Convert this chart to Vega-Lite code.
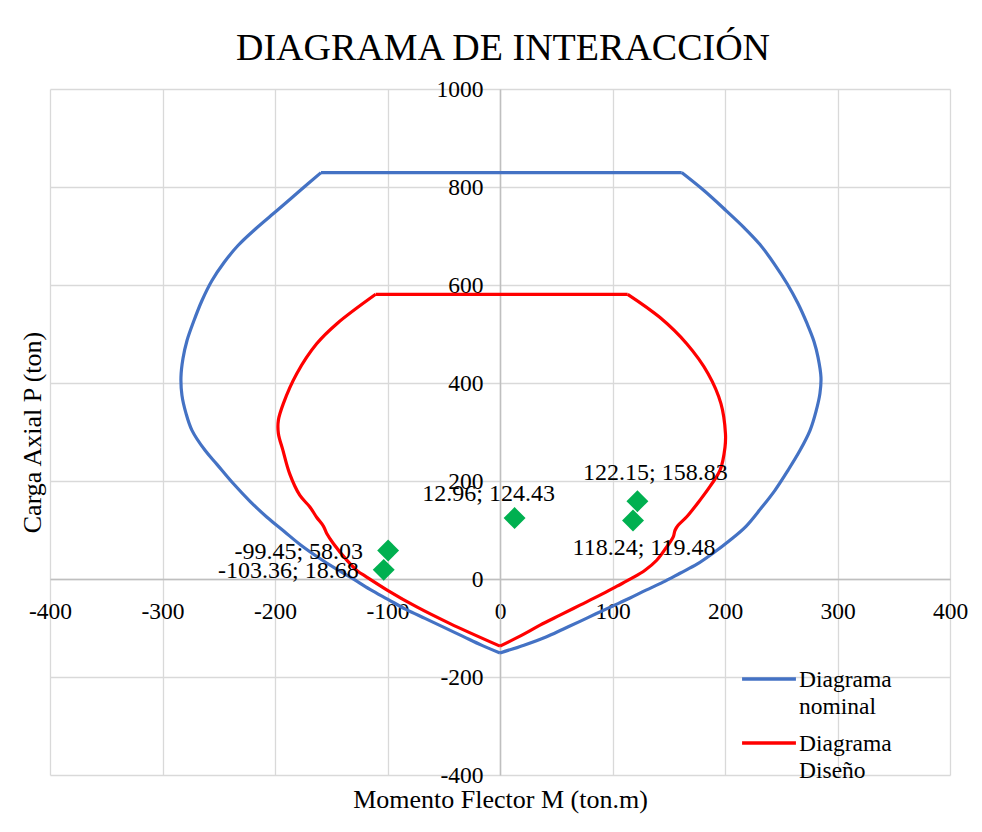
{
  "$schema": "https://vega.github.io/schema/vega-lite/v6.json",
  "width": 900,
  "height": 686,
  "autosize": {"type": "none"},
  "padding": {"left": 50, "top": 89, "right": 32, "bottom": 57},
  "background": "white",
  "title": {
    "text": "DIAGRAMA DE INTERACCIÓN",
    "font": "Liberation Serif",
    "fontSize": 38,
    "fontWeight": "normal",
    "color": "black",
    "anchor": "middle",
    "frame": "group",
    "baseline": "alphabetic",
    "offset": -21,
    "dx": 3
  },
  "config": {
    "view": {"stroke": null},
    "axis": {"labelFont": "Liberation Serif", "titleFont": "Liberation Serif", "labelColor": "black", "titleColor": "black", "titleFontWeight": "normal"},
    "legend": {"labelFont": "Liberation Serif", "labelColor": "black"}
  },
  "datasets": {
    "curves": [
      {"serie": "Diagrama nominal", "arc": "top", "i": 1, "M": -159.1, "P": 829.4},
      {"serie": "Diagrama nominal", "arc": "top", "i": 2, "M": 161.5, "P": 829.4},
      {"serie": "Diagrama nominal", "arc": "right", "i": 2, "M": 161.5, "P": 829.4},
      {"serie": "Diagrama nominal", "arc": "right", "i": 3, "M": 181.3, "P": 792.7},
      {"serie": "Diagrama nominal", "arc": "right", "i": 4, "M": 200.9, "P": 751.9},
      {"serie": "Diagrama nominal", "arc": "right", "i": 5, "M": 216.9, "P": 717.2},
      {"serie": "Diagrama nominal", "arc": "right", "i": 6, "M": 231.1, "P": 682.6},
      {"serie": "Diagrama nominal", "arc": "right", "i": 7, "M": 243.6, "P": 643.8},
      {"serie": "Diagrama nominal", "arc": "right", "i": 8, "M": 255.1, "P": 603.1},
      {"serie": "Diagrama nominal", "arc": "right", "i": 9, "M": 264.9, "P": 562.3},
      {"serie": "Diagrama nominal", "arc": "right", "i": 10, "M": 272.9, "P": 521.5},
      {"serie": "Diagrama nominal", "arc": "right", "i": 11, "M": 279.1, "P": 484.8},
      {"serie": "Diagrama nominal", "arc": "right", "i": 12, "M": 282.7, "P": 452.2},
      {"serie": "Diagrama nominal", "arc": "right", "i": 13, "M": 285.3, "P": 411.4},
      {"serie": "Diagrama nominal", "arc": "right", "i": 14, "M": 284.4, "P": 378.8},
      {"serie": "Diagrama nominal", "arc": "right", "i": 15, "M": 280.9, "P": 342.1},
      {"serie": "Diagrama nominal", "arc": "right", "i": 16, "M": 275.6, "P": 303.4},
      {"serie": "Diagrama nominal", "arc": "right", "i": 17, "M": 266.7, "P": 262.6},
      {"serie": "Diagrama nominal", "arc": "right", "i": 18, "M": 256.0, "P": 221.8},
      {"serie": "Diagrama nominal", "arc": "right", "i": 19, "M": 244.4, "P": 181.0},
      {"serie": "Diagrama nominal", "arc": "right", "i": 20, "M": 232.0, "P": 144.3},
      {"serie": "Diagrama nominal", "arc": "right", "i": 21, "M": 218.7, "P": 107.6},
      {"serie": "Diagrama nominal", "arc": "right", "i": 22, "M": 204.4, "P": 79.1},
      {"serie": "Diagrama nominal", "arc": "right", "i": 23, "M": 189.3, "P": 52.6},
      {"serie": "Diagrama nominal", "arc": "right", "i": 24, "M": 175.1, "P": 30.2},
      {"serie": "Diagrama nominal", "arc": "right", "i": 25, "M": 160.0, "P": 11.8},
      {"serie": "Diagrama nominal", "arc": "right", "i": 26, "M": 144.9, "P": -6.5},
      {"serie": "Diagrama nominal", "arc": "right", "i": 27, "M": 129.8, "P": -22.8},
      {"serie": "Diagrama nominal", "arc": "right", "i": 28, "M": 115.6, "P": -38.8},
      {"serie": "Diagrama nominal", "arc": "right", "i": 29, "M": 100.4, "P": -55.0},
      {"serie": "Diagrama nominal", "arc": "right", "i": 30, "M": 85.3, "P": -71.0},
      {"serie": "Diagrama nominal", "arc": "right", "i": 31, "M": 71.1, "P": -86.5},
      {"serie": "Diagrama nominal", "arc": "right", "i": 32, "M": 56.0, "P": -102.4},
      {"serie": "Diagrama nominal", "arc": "right", "i": 33, "M": 40.9, "P": -118.2},
      {"serie": "Diagrama nominal", "arc": "right", "i": 34, "M": 21.3, "P": -135.0},
      {"serie": "Diagrama nominal", "arc": "right", "i": 35, "M": 0, "P": -151},
      {"serie": "Diagrama nominal", "arc": "left", "i": 35, "M": 0, "P": -151},
      {"serie": "Diagrama nominal", "arc": "left", "i": 36, "M": -16.0, "P": -135.4},
      {"serie": "Diagrama nominal", "arc": "left", "i": 37, "M": -32.9, "P": -117.1},
      {"serie": "Diagrama nominal", "arc": "left", "i": 38, "M": -49.8, "P": -98.7},
      {"serie": "Diagrama nominal", "arc": "left", "i": 39, "M": -66.7, "P": -80.4},
      {"serie": "Diagrama nominal", "arc": "left", "i": 40, "M": -83.6, "P": -62.0},
      {"serie": "Diagrama nominal", "arc": "left", "i": 41, "M": -99.6, "P": -41.6},
      {"serie": "Diagrama nominal", "arc": "left", "i": 42, "M": -115.6, "P": -21.2},
      {"serie": "Diagrama nominal", "arc": "left", "i": 43, "M": -131.6, "P": 1.6},
      {"serie": "Diagrama nominal", "arc": "left", "i": 44, "M": -146.7, "P": 22.0},
      {"serie": "Diagrama nominal", "arc": "left", "i": 45, "M": -161.8, "P": 44.4},
      {"serie": "Diagrama nominal", "arc": "left", "i": 46, "M": -176.9, "P": 68.9},
      {"serie": "Diagrama nominal", "arc": "left", "i": 47, "M": -192.0, "P": 97.4},
      {"serie": "Diagrama nominal", "arc": "left", "i": 48, "M": -207.1, "P": 126.0},
      {"serie": "Diagrama nominal", "arc": "left", "i": 49, "M": -222.2, "P": 158.6},
      {"serie": "Diagrama nominal", "arc": "left", "i": 50, "M": -237.3, "P": 195.3},
      {"serie": "Diagrama nominal", "arc": "left", "i": 51, "M": -251.6, "P": 234.0},
      {"serie": "Diagrama nominal", "arc": "left", "i": 52, "M": -262.2, "P": 262.6},
      {"serie": "Diagrama nominal", "arc": "left", "i": 53, "M": -273.8, "P": 303.4},
      {"serie": "Diagrama nominal", "arc": "left", "i": 54, "M": -279.1, "P": 338.0},
      {"serie": "Diagrama nominal", "arc": "left", "i": 55, "M": -282.7, "P": 374.7},
      {"serie": "Diagrama nominal", "arc": "left", "i": 56, "M": -283.6, "P": 411.4},
      {"serie": "Diagrama nominal", "arc": "left", "i": 57, "M": -281.8, "P": 450.1},
      {"serie": "Diagrama nominal", "arc": "left", "i": 58, "M": -278.2, "P": 486.8},
      {"serie": "Diagrama nominal", "arc": "left", "i": 59, "M": -272.0, "P": 527.6},
      {"serie": "Diagrama nominal", "arc": "left", "i": 60, "M": -264.9, "P": 568.4},
      {"serie": "Diagrama nominal", "arc": "left", "i": 61, "M": -256.0, "P": 609.2},
      {"serie": "Diagrama nominal", "arc": "left", "i": 62, "M": -245.3, "P": 645.9},
      {"serie": "Diagrama nominal", "arc": "left", "i": 63, "M": -232.9, "P": 680.6},
      {"serie": "Diagrama nominal", "arc": "left", "i": 64, "M": -216.9, "P": 715.3},
      {"serie": "Diagrama nominal", "arc": "left", "i": 65, "M": -198.2, "P": 752.0},
      {"serie": "Diagrama nominal", "arc": "left", "i": 66, "M": -178.7, "P": 790.7},
      {"serie": "Diagrama nominal", "arc": "left", "i": 67, "M": -159.1, "P": 829.4},
      {"serie": "Diagrama Diseño", "arc": "top", "i": 1, "M": -110.5, "P": 581},
      {"serie": "Diagrama Diseño", "arc": "top", "i": 2, "M": 113.5, "P": 581},
      {"serie": "Diagrama Diseño", "arc": "right", "i": 2, "M": 113.5, "P": 581},
      {"serie": "Diagrama Diseño", "arc": "right", "i": 3, "M": 142, "P": 534},
      {"serie": "Diagrama Diseño", "arc": "right", "i": 4, "M": 166, "P": 480},
      {"serie": "Diagrama Diseño", "arc": "right", "i": 5, "M": 185, "P": 419},
      {"serie": "Diagrama Diseño", "arc": "right", "i": 6, "M": 196.4, "P": 358},
      {"serie": "Diagrama Diseño", "arc": "right", "i": 7, "M": 200.4, "P": 297},
      {"serie": "Diagrama Diseño", "arc": "right", "i": 8, "M": 200, "P": 269},
      {"serie": "Diagrama Diseño", "arc": "right", "i": 9, "M": 195.6, "P": 222},
      {"serie": "Diagrama Diseño", "arc": "right", "i": 10, "M": 187, "P": 190},
      {"serie": "Diagrama Diseño", "arc": "right", "i": 11, "M": 177.8, "P": 161},
      {"serie": "Diagrama Diseño", "arc": "right", "i": 12, "M": 166, "P": 127},
      {"serie": "Diagrama Diseño", "arc": "right", "i": 13, "M": 158.5, "P": 110},
      {"serie": "Diagrama Diseño", "arc": "right", "i": 14, "M": 155.6, "P": 99.5},
      {"serie": "Diagrama Diseño", "arc": "right", "i": 15, "M": 154, "P": 86},
      {"serie": "Diagrama Diseño", "arc": "right", "i": 16, "M": 148, "P": 65},
      {"serie": "Diagrama Diseño", "arc": "right", "i": 17, "M": 139.3, "P": 38.3},
      {"serie": "Diagrama Diseño", "arc": "right", "i": 18, "M": 128.9, "P": 17.9},
      {"serie": "Diagrama Diseño", "arc": "right", "i": 19, "M": 117.3, "P": 1.6},
      {"serie": "Diagrama Diseño", "arc": "right", "i": 20, "M": 104.0, "P": -14.7},
      {"serie": "Diagrama Diseño", "arc": "right", "i": 21, "M": 88.9, "P": -33.0},
      {"serie": "Diagrama Diseño", "arc": "right", "i": 22, "M": 71.1, "P": -53.4},
      {"serie": "Diagrama Diseño", "arc": "right", "i": 23, "M": 53.3, "P": -73.8},
      {"serie": "Diagrama Diseño", "arc": "right", "i": 24, "M": 35.6, "P": -94.2},
      {"serie": "Diagrama Diseño", "arc": "right", "i": 25, "M": 17.8, "P": -116.7},
      {"serie": "Diagrama Diseño", "arc": "right", "i": 26, "M": 0, "P": -137},
      {"serie": "Diagrama Diseño", "arc": "left", "i": 26, "M": 0, "P": -137},
      {"serie": "Diagrama Diseño", "arc": "left", "i": 27, "M": -44.4, "P": -91},
      {"serie": "Diagrama Diseño", "arc": "left", "i": 28, "M": -74, "P": -57},
      {"serie": "Diagrama Diseño", "arc": "left", "i": 29, "M": -100.7, "P": -22},
      {"serie": "Diagrama Diseño", "arc": "left", "i": 30, "M": -118.5, "P": 4},
      {"serie": "Diagrama Diseño", "arc": "left", "i": 31, "M": -127, "P": 17},
      {"serie": "Diagrama Diseño", "arc": "left", "i": 32, "M": -136, "P": 38},
      {"serie": "Diagrama Diseño", "arc": "left", "i": 33, "M": -148, "P": 72},
      {"serie": "Diagrama Diseño", "arc": "left", "i": 34, "M": -154, "P": 93},
      {"serie": "Diagrama Diseño", "arc": "left", "i": 35, "M": -157, "P": 108},
      {"serie": "Diagrama Diseño", "arc": "left", "i": 36, "M": -163, "P": 126},
      {"serie": "Diagrama Diseño", "arc": "left", "i": 37, "M": -169, "P": 147},
      {"serie": "Diagrama Diseño", "arc": "left", "i": 38, "M": -178, "P": 171},
      {"serie": "Diagrama Diseño", "arc": "left", "i": 39, "M": -187, "P": 215},
      {"serie": "Diagrama Diseño", "arc": "left", "i": 40, "M": -193, "P": 263},
      {"serie": "Diagrama Diseño", "arc": "left", "i": 41, "M": -197, "P": 297},
      {"serie": "Diagrama Diseño", "arc": "left", "i": 42, "M": -197, "P": 324},
      {"serie": "Diagrama Diseño", "arc": "left", "i": 43, "M": -192.6, "P": 358},
      {"serie": "Diagrama Diseño", "arc": "left", "i": 44, "M": -180.7, "P": 419},
      {"serie": "Diagrama Diseño", "arc": "left", "i": 45, "M": -163, "P": 480},
      {"serie": "Diagrama Diseño", "arc": "left", "i": 46, "M": -145, "P": 521},
      {"serie": "Diagrama Diseño", "arc": "left", "i": 47, "M": -110.5, "P": 581}
    ],
    "points": [
      {"M": 12.96, "P": 124.43, "label": "12.96; 124.43", "pos": "a"},
      {"M": 122.15, "P": 158.83, "label": "122.15; 158.83", "pos": "b"},
      {"M": 118.24, "P": 119.48, "label": "118.24; 119.48", "pos": "c"},
      {"M": -99.45, "P": 58.03, "label": "-99.45; 58.03", "pos": "d"},
      {"M": -103.36, "P": 18.68, "label": "-103.36; 18.68", "pos": "e"}
    ]
  },
  "resolve": {"axis": {"x": "independent", "y": "independent"}},
  "layer": [
    {
      "data": {"name": "curves"},
      "mark": {"type": "line", "strokeWidth": 3.2, "interpolate": "catmull-rom"},
      "encoding": {
        "x": {
          "field": "M", "type": "quantitative",
          "scale": {"domain": [-400, 400], "nice": false, "zero": false},
          "axis": {
            "orient": "bottom",
            "title": "Momento Flector M (ton.m)",
            "titleFontSize": 26,
            "titlePadding": 11,
            "values": [-400, -300, -200, -100, 0, 100, 200, 300, 400],
            "grid": true, "gridColor": "#D9D9D9", "gridWidth": 1.3,
            "labels": false, "ticks": false, "domain": false
          }
        },
        "y": {
          "field": "P", "type": "quantitative",
          "scale": {"domain": [-400, 1000], "nice": false, "zero": false},
          "axis": {
            "orient": "left",
            "title": "Carga Axial P (ton)",
            "titleFontSize": 26,
            "titlePadding": 5,
            "values": [-400, -200, 0, 200, 400, 600, 800, 1000],
            "grid": true, "gridColor": "#D9D9D9", "gridWidth": 1.3,
            "labels": false, "ticks": false, "domain": false
          }
        },
        "color": {
          "field": "serie", "type": "nominal",
          "scale": {"domain": ["Diagrama nominal", "Diagrama Diseño"], "range": ["#4472C4", "#FF0000"]},
          "legend": {
            "title": null,
            "orient": "none",
            "legendX": 690,
            "legendY": 572,
            "padding": 0,
            "symbolType": "stroke",
            "symbolSize": 2900,
            "symbolStrokeWidth": 3.5,
            "labelFontSize": 23.5,
            "labelOffset": 1,
            "labelBaseline": "alphabetic",
            "labelExpr": "split(datum.label, ' ')",
            "clipHeight": 36,
            "rowPadding": 6,
            "encode": {"labels": {"update": {"dy": {"value": 8}, "lineHeight": {"value": 27}}}}
          }
        },
        "detail": {"field": "arc", "type": "nominal"},
        "order": {"field": "i", "type": "quantitative"}
      }
    },
    {
      "data": {"name": "points"},
      "mark": {"type": "point", "shape": "diamond", "filled": true, "opacity": 1, "color": "#00B050", "size": 480},
      "encoding": {
        "x": {
          "field": "M", "type": "quantitative",
          "axis": {
            "orient": "bottom", "offset": -196, "title": null,
            "values": [-400, -300, -200, -100, 0, 100, 200, 300, 400],
            "labelExpr": "datum.value < 0 ? '-' + abs(datum.value) : '' + datum.value",
            "grid": false, "ticks": false,
            "domain": true, "domainColor": "#BFBFBF", "domainWidth": 1.5,
            "labelFontSize": 23.5, "labelPadding": 20, "labelBaseline": "top",
            "labelFlush": false, "labelOverlap": false
          }
        },
        "y": {
          "field": "P", "type": "quantitative",
          "axis": {
            "orient": "left", "offset": -450, "title": null,
            "values": [-400, -200, 0, 200, 400, 600, 800, 1000],
            "labelExpr": "datum.value < 0 ? '-' + abs(datum.value) : '' + datum.value",
            "grid": false, "ticks": false,
            "domain": true, "domainColor": "#BFBFBF", "domainWidth": 1.5,
            "labelFontSize": 23.5, "labelPadding": 17, "labelBaseline": "middle",
            "labelFlush": false, "labelOverlap": false
          }
        }
      }
    },
    {
      "data": {"name": "points"},
      "transform": [{"filter": "datum.pos === 'a'"}],
      "mark": {"type": "text", "font": "Liberation Serif", "fontSize": 24, "color": "black", "align": "center", "baseline": "middle", "dx": -26, "dy": -24},
      "encoding": {
        "x": {"field": "M", "type": "quantitative", "axis": null},
        "y": {"field": "P", "type": "quantitative", "axis": null},
        "text": {"field": "label"}
      }
    },
    {
      "data": {"name": "points"},
      "transform": [{"filter": "datum.pos === 'b'"}],
      "mark": {"type": "text", "font": "Liberation Serif", "fontSize": 24, "color": "black", "align": "center", "baseline": "middle", "dx": 18, "dy": -28},
      "encoding": {
        "x": {"field": "M", "type": "quantitative", "axis": null},
        "y": {"field": "P", "type": "quantitative", "axis": null},
        "text": {"field": "label"}
      }
    },
    {
      "data": {"name": "points"},
      "transform": [{"filter": "datum.pos === 'c'"}],
      "mark": {"type": "text", "font": "Liberation Serif", "fontSize": 24, "color": "black", "align": "center", "baseline": "middle", "dx": 11, "dy": 28},
      "encoding": {
        "x": {"field": "M", "type": "quantitative", "axis": null},
        "y": {"field": "P", "type": "quantitative", "axis": null},
        "text": {"field": "label"}
      }
    },
    {
      "data": {"name": "points"},
      "transform": [{"filter": "datum.pos === 'd' || datum.pos === 'e'"}],
      "mark": {"type": "text", "font": "Liberation Serif", "fontSize": 24, "color": "black", "align": "right", "baseline": "middle", "dx": -25, "dy": 1},
      "encoding": {
        "x": {"field": "M", "type": "quantitative", "axis": null},
        "y": {"field": "P", "type": "quantitative", "axis": null},
        "text": {"field": "label"}
      }
    }
  ]
}
